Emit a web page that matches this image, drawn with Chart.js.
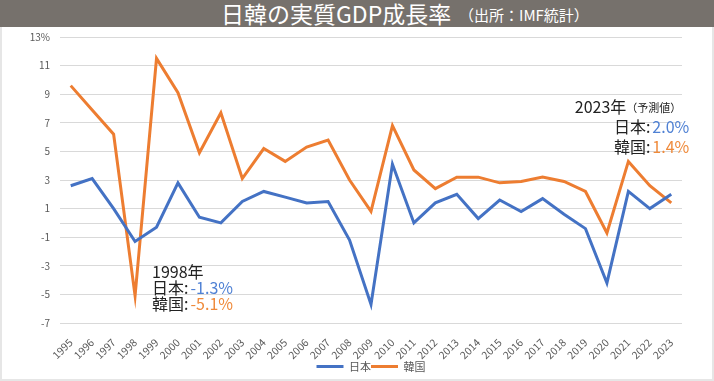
<!DOCTYPE html>
<html>
<head>
<meta charset="utf-8">
<script src="https://cdn.jsdelivr.net/npm/chart.js@4"></script>
<style>
  body { margin: 0; background: #fff; font-family: "Noto Sans CJK JP", sans-serif; }
  #title {
    position: absolute; left: 0; top: 0; width: 714px; height: 27px;
    background: #76716c; color: #fff; white-space: nowrap;
  }
  #title .main { position: absolute; left: 221px; top: 0; font-size: 23px; line-height: 27px; }
  #title .sub { position: absolute; left: 459px; top: 1px; font-size: 15px; line-height: 27px; }
  #wrap {
    position: absolute; left: 0; top: 27px; width: 714px; height: 354px;
    box-sizing: border-box; border: 2px solid #e6e6e6; border-top: none;
  }
  #wrap canvas { display: block; }
</style>
</head>
<body>
<div id="title"><span class="main">日韓の実質GDP成長率</span><span class="sub">（出所：IMF統計）</span></div>
<div id="wrap"><canvas id="gdpChart" width="710" height="352"></canvas></div>
<script>
const years = ['1995','1996','1997','1998','1999','2000','2001','2002','2003','2004',
  '2005','2006','2007','2008','2009','2010','2011','2012','2013','2014',
  '2015','2016','2017','2018','2019','2020','2021','2022','2023'];
const japan = [2.6, 3.1, 1.0, -1.3, -0.3, 2.8, 0.4, 0.0, 1.5, 2.2,
  1.8, 1.4, 1.5, -1.2, -5.7, 4.1, 0.0, 1.4, 2.0, 0.3,
  1.6, 0.8, 1.7, 0.6, -0.4, -4.2, 2.2, 1.0, 2.0];
const korea = [9.6, 7.9, 6.2, -5.1, 11.5, 9.1, 4.9, 7.7, 3.1, 5.2,
  4.3, 5.3, 5.8, 3.0, 0.8, 6.8, 3.7, 2.4, 3.2, 3.2,
  2.8, 2.9, 3.2, 2.9, 2.2, -0.7, 4.3, 2.6, 1.4];
const yMin = -7, yMax = 13, yStep = 2;

const blue = '#4472c4';
const orange = '#ed7d31';
const jpFont = '"Noto Sans CJK JP", sans-serif';

// zero line + the two text notes
const notesPlugin = {
  id: 'notes',
  beforeDatasetsDraw(chart) {
    const { ctx, chartArea, scales } = chart;
    const y0 = Math.round(scales.y.getPixelForValue(0)) + 0.5;
    ctx.save();
    ctx.strokeStyle = '#d9d9d9';
    ctx.lineWidth = 1;
    ctx.beginPath();
    ctx.moveTo(chartArea.left, y0);
    ctx.lineTo(chartArea.right, y0);
    ctx.stroke();
    ctx.restore();
  },
  afterDatasetsDraw(chart) {
    const { ctx, scales } = chart;
    const x = scales.x, y = scales.y;
    ctx.save();
    ctx.textBaseline = 'middle';

    // 1998 note
    let left = x.getPixelForValue(3) + 17;
    let top = y.getPixelForValue(-3.4);
    ctx.font = '16px ' + jpFont;
    ctx.fillStyle = '#222';
    ctx.textAlign = 'left';
    ctx.fillText('1998年', left, top);
    const rows98 = [['日本:', '-1.3%', '#4f81d4'], ['韓国:', '-5.1%', '#ef8a3a']];
    rows98.forEach((r, i) => {
      const ty = top + 16 * (i + 1);
      ctx.fillStyle = '#222';
      ctx.fillText(r[0], left, ty);
      const w = ctx.measureText(r[0]).width;
      ctx.fillStyle = r[2];
      ctx.fillText(r[1], left + w + 2, ty);
    });

    // 2023 note, right aligned
    const right = x.getPixelForValue(28) + 18;
    top = y.getPixelForValue(8.1);
    ctx.textAlign = 'right';
    ctx.font = '11px ' + jpFont;
    ctx.fillStyle = '#222';
    ctx.fillText('（予測値）', right - 8, top + 1);
    const pw = ctx.measureText('（予測値）').width;
    ctx.font = '16px ' + jpFont;
    ctx.fillText('2023年', right - 8 - pw, top);
    const rows23 = [['日本:', '2.0%', '#4f81d4'], ['韓国:', '1.4%', '#ef8a3a']];
    rows23.forEach((r, i) => {
      const ty = top + 20 * (i + 1);
      ctx.fillStyle = r[2];
      ctx.fillText(r[1], right, ty);
      const w = ctx.measureText(r[1]).width;
      ctx.fillStyle = '#222';
      ctx.fillText(r[0], right - w - 2, ty);
    });
    ctx.restore();
  }
};

new Chart(document.getElementById('gdpChart'), {
  type: 'line',
  data: {
    labels: years,
    datasets: [
      { label: '日本', data: japan, borderColor: blue, backgroundColor: blue,
        borderWidth: 3, pointRadius: 0, tension: 0 },
      { label: '韓国', data: korea, borderColor: orange, backgroundColor: orange,
        borderWidth: 3, pointRadius: 0, tension: 0 }
    ]
  },
  options: {
    responsive: false,
    animation: false,
    layout: { padding: { left: 0, right: 30, top: 10, bottom: -3 } },
    plugins: {
      legend: {
        position: 'bottom',
        fullSize: false,
        labels: {
          usePointStyle: true, pointStyle: 'line', pointStyleWidth: 27,
          boxHeight: 3, padding: 0, color: '#595959',
          font: { size: 11, family: jpFont }
        }
      },
      tooltip: { enabled: false }
    },
    scales: {
      x: {
        offset: true,
        grid: { display: false },
        border: { display: false },
        ticks: { color: '#595959', minRotation: 45, maxRotation: 45, padding: 5,
          autoSkip: false, font: { size: 10.5, family: jpFont } },
        afterFit(scale) { scale.height = 38; }
      },
      y: {
        min: yMin, max: yMax,
        grid: { color: '#d9d9d9', drawTicks: false },
        border: { display: false },
        ticks: { stepSize: yStep, color: '#595959', padding: 10,
          font: { size: 10, family: jpFont },
          callback: v => v === yMax ? v + '%' : v },
        afterFit(scale) {
          scale.width = 58;
          scale.paddingTop = 6;
          scale.paddingBottom = 6;
        }
      }
    }
  },
  plugins: [notesPlugin]
});
</script>
</body>
</html>
